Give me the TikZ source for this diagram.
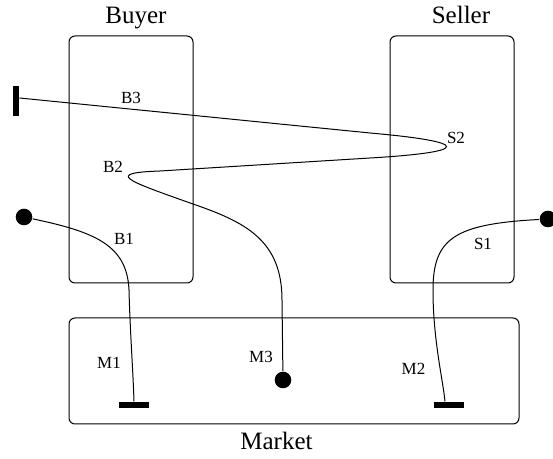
\documentclass[tikz,border=0pt]{standalone}
\usepackage{fontspec}
\setmainfont{Liberation Serif}
\begin{document}
\begin{tikzpicture}[x=0.5pt,y=-0.5pt,line width=0.5pt,
    box/.style={draw,rounded corners=3pt,inner sep=0pt},
    title/.style={anchor=base,font=\fontsize{12.5}{15}\selectfont},
    port/.style={anchor=base,font=\fontsize{8.5}{10}\selectfont},
    dot/.style={circle,fill,inner sep=0pt,minimum size=8.3pt},
    hbar/.style={rectangle,fill,inner sep=0pt,minimum width=15pt,minimum height=3pt},
    vbar/.style={hbar,minimum width=3pt,minimum height=15pt}]
    \useasboundingbox (0,0) rectangle (553,459);
    % agents
    \node[box,minimum width=62pt,minimum height=123.5pt] (buyer) at (131,159.5) {};
    \node[box,minimum width=62pt,minimum height=123.5pt] (seller) at (452,159.5) {};
    \node[box,minimum width=225pt,minimum height=53pt] (market) at (294,371) {};
    \node[title] (buyername) at (136,24) {Buyer};
    \node[title] (sellername) at (461,24) {Seller};
    \node[title] (marketname) at (276.5,450) {Market};
    % port labels
    \foreach \p/\x/\y in {B3/131/103.5,B2/113/172.5,B1/124/245,S2/456/144,S1/483/249.5,M1/109/368.5,M3/261/362.5,M2/413.5/374.5}
        \node[port] (\p) at (\x,\y) {\p};
    % ends
    \node[vbar] (end3) at (16,101) {};
    \node[dot] (end1) at (24,217) {};
    \node[dot] (end2) at (548,219) {};
    \node[dot] (endM3) at (283,380) {};
    \node[hbar] (endM1) at (134,405) {};
    \node[hbar] (endM2) at (449,405) {};
    % wires
    \draw ([yshift=1.5pt]end3.east) -- (370,133) .. controls (472,142) and (472,152) .. (370,158)
        -- (160,171) .. controls (105,173) and (125,180) .. (193,204)
        .. controls (245,222) and (282,240) .. (282,300) -- (endM3);
    \draw (end1) .. controls (95,232) and (127,245) .. (129,290) .. controls (130,330) and (133,370) .. (endM1.north);
    \draw (end2) .. controls (455,224) and (433,238) .. (433,290) .. controls (433,340) and (443,380) .. ([xshift=-2pt]endM2.north);
\end{tikzpicture}
\end{document}
